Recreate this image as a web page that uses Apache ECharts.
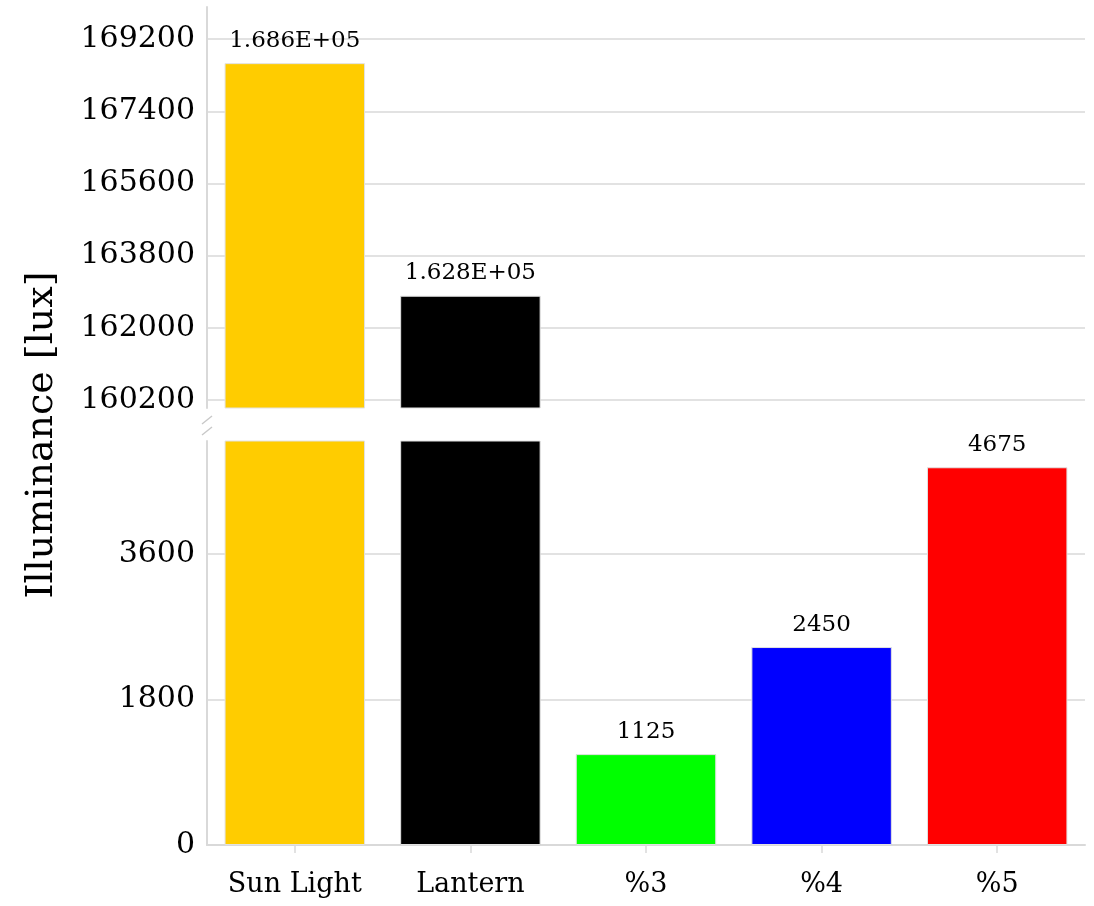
<!DOCTYPE html>
<html>
<head>
<meta charset="utf-8">
<title>Illuminance</title>
<script src="https://cdn.jsdelivr.net/npm/echarts@6/dist/echarts.min.js"></script>
<style>
  html, body { margin: 0; padding: 0; background: #ffffff; }
  #chart { width: 1094px; height: 906px; }
</style>
</head>
<body>
<div id="chart"></div>
<script>
// Light sources and measured illuminance (lux)
const categories = ['Sun Light', 'Lantern', '%3', '%4', '%5'];
const illuminance = [168600, 162800, 1125, 2450, 4675];
const barColors = ['#FFCC00', '#000000', '#00FF00', '#0000FF', '#FF0000'];

// Broken value axis: upper and lower segments
const upperRange = [160000, 170000];
const lowerRange = [0, 5000];
const upperTicks = [160200, 162000, 163800, 165600, 167400, 169200];
const lowerTicks = [0, 1800, 3600];

const FONT = 'DejaVu Serif';
const AXIS_GRAY = '#d9d9d9';

function formatValue(v) {
  if (v >= 10000) {
    const exp = Math.floor(Math.log10(v));
    const mant = (v / Math.pow(10, exp)).toFixed(3);
    return mant + 'E+' + String(exp).padStart(2, '0');
  }
  return String(v);
}

const upperData = illuminance.map((v, i) => ({
  value: v > lowerRange[1] ? v : '-',
  itemStyle: { color: barColors[i] }
}));
const lowerData = illuminance.map((v, i) => ({
  value: v,
  itemStyle: { color: barColors[i] },
  label: { show: v <= lowerRange[1] }
}));

const chart = echarts.init(document.getElementById('chart'), null, { renderer: 'canvas' });

const barLabel = {
  show: true,
  position: 'top',
  distance: 11,
  fontFamily: FONT,
  fontSize: 23,
  color: '#000',
  formatter: p => formatValue(p.value)
};

const tickLabel = {
  fontFamily: FONT, fontSize: 30, color: '#000', margin: 12,
  formatter: v => String(v)
};

const option = {
  backgroundColor: '#ffffff',
  animation: false,
  grid: [
    { left: 207, right: 9, top: 7, height: 401 },
    { left: 207, right: 9, top: 441, bottom: 61 }
  ],
  xAxis: [
    {
      type: 'category', gridIndex: 0, data: categories,
      axisLine: { show: false }, axisTick: { show: false }, axisLabel: { show: false },
      splitLine: { show: false }
    },
    {
      type: 'category', gridIndex: 1, data: categories,
      axisLine: { show: true, lineStyle: { color: AXIS_GRAY, width: 2 } },
      axisTick: { show: true, alignWithLabel: true, length: 8, lineStyle: { color: AXIS_GRAY, width: 1.5 } },
      axisLabel: { fontFamily: FONT, fontSize: 27, color: '#000', margin: 26 }
    }
  ],
  yAxis: [
    {
      type: 'value', gridIndex: 0, min: upperRange[0], max: upperRange[1],
      axisLine: { show: true, lineStyle: { color: AXIS_GRAY, width: 2 } },
      axisTick: { show: false, customValues: upperTicks },
      axisLabel: Object.assign({ customValues: upperTicks }, tickLabel),
      splitLine: { show: true, lineStyle: { color: AXIS_GRAY, width: 1.5 } }
    },
    {
      type: 'value', gridIndex: 1, min: lowerRange[0], max: lowerRange[1],
      axisLine: { show: true, lineStyle: { color: AXIS_GRAY, width: 2 } },
      axisTick: { show: false, customValues: lowerTicks },
      axisLabel: Object.assign({ customValues: lowerTicks }, tickLabel),
      splitLine: { show: true, lineStyle: { color: AXIS_GRAY, width: 1.5 } }
    }
  ],
  series: [
    {
      type: 'bar', xAxisIndex: 0, yAxisIndex: 0, data: upperData,
      barCategoryGap: '20%', clip: true,
      itemStyle: { borderColor: '#e2e2e2', borderWidth: 1 },
      label: barLabel
    },
    {
      type: 'bar', xAxisIndex: 1, yAxisIndex: 1, data: lowerData,
      barCategoryGap: '20%', clip: true,
      itemStyle: { borderColor: '#e2e2e2', borderWidth: 1 },
      label: barLabel
    }
  ],
  graphic: [
    {
      type: 'text', x: 23, y: 435, rotation: Math.PI / 2,
      style: {
        text: 'Illuminance [lux]', font: '38px "DejaVu Serif"', fill: '#000',
        align: 'center', verticalAlign: 'top'
      }
    },
    // break marks on the value axis
    { type: 'line', shape: { x1: 202, y1: 424, x2: 212, y2: 416 }, style: { stroke: '#c8c8c8', lineWidth: 1.5 } },
    { type: 'line', shape: { x1: 202, y1: 435, x2: 212, y2: 427 }, style: { stroke: '#c8c8c8', lineWidth: 1.5 } }
  ]
};

chart.setOption(option);
</script>
</body>
</html>
